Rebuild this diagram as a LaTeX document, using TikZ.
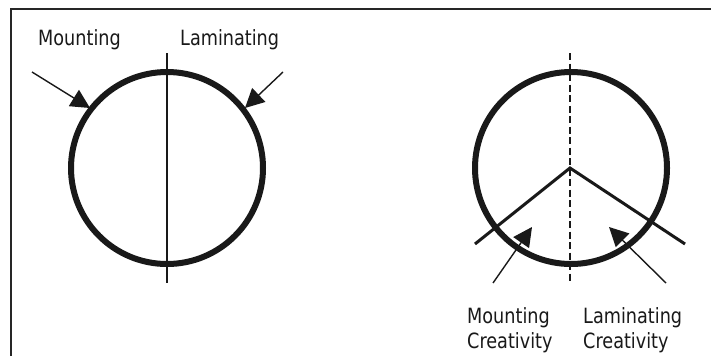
\documentclass[tikz,border=0pt]{standalone}
\usepackage{fontspec}
\setmainfont[FakeStretch=0.84]{DejaVu Sans}
\usetikzlibrary{arrows.meta}
\begin{document}
\begin{tikzpicture}[x=1pt,y=-1pt,
  ring/.style={line width=6pt, draw=black!90},
  axisline/.style={line width=1.4pt, draw=black!90},
  pointer/.style={line width=1.4pt, draw=black!90, -{Triangle[length=19pt,width=19pt]}},
  lbl/.style={font=\fontsize{21}{25}\selectfont, anchor=base west, inner sep=0pt, text=black!90},
  vee/.style={line width=3pt, draw=black!90}]
\useasboundingbox (0,0) rectangle (711,356);
\fill[white] (0,0) rectangle (711,356);
% frame
\coordinate (fr1) at (11,356);
\coordinate (fr2) at (11,9);
\coordinate (fr3) at (711,9);
\draw[line width=1.6pt, draw=black!85] (fr1) -- (fr2) -- (fr3);
% left figure
\node[ring, circle, minimum size=192pt, inner sep=0pt] (c1) at (167,168) {};
\coordinate (v1t) at (167,53);
\coordinate (v1b) at (167,283);
\draw[axisline] (v1t) -- (v1b);
\coordinate (a1s) at (32,72);
\coordinate (a1e) at (90,108);
\coordinate (a2s) at (283,72);
\coordinate (a2e) at (245,108);
\draw[pointer] (a1s) -- (a1e);
\draw[pointer] (a2s) -- (a2e);
\node[lbl] (mount) at (38,45) {Mounting};
\node[lbl] (lamin) at (180,45) {Laminating};
% right figure
\node[ring, circle, minimum size=192pt, inner sep=0pt] (c2) at (571,168) {};
\coordinate (v2t) at (570,53);
\coordinate (v2b) at (570,283);
\draw[line width=1.4pt, draw=black!90, dash pattern=on 7pt off 3.5pt] (v2t) -- (v2b);
\coordinate (apex) at (570,168);
\coordinate (vl) at (475,244);
\coordinate (vr) at (685,244);
\draw[vee] (vl) -- (apex) -- (vr);
\coordinate (b1s) at (493,283);
\coordinate (b1e) at (532,227);
\coordinate (b2s) at (666,283);
\coordinate (b2e) at (609,227);
\draw[pointer] (b1s) -- (b1e);
\draw[pointer] (b2s) -- (b2e);
\node[lbl] (mc1) at (467,323) {Mounting};
\node[lbl] (mc2) at (467,348) {Creativity};
\node[lbl] (lc1) at (583,323) {Laminating};
\node[lbl] (lc2) at (583,348) {Creativity};
\end{tikzpicture}
\end{document}
